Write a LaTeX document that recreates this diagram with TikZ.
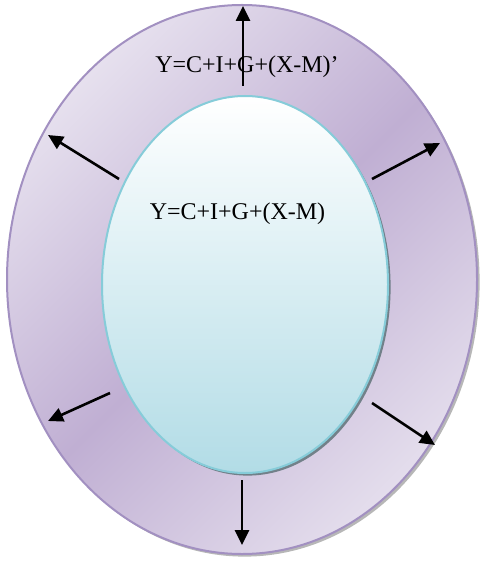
\documentclass[tikz,border=0pt]{standalone}
\usepackage{fontspec}
\setmainfont{Liberation Serif}
\usetikzlibrary{shapes.geometric,shadows,arrows.meta,positioning}
\definecolor{ringlight}{HTML}{E6E0EE}
\definecolor{ringdark}{HTML}{C0AFD3}
\definecolor{ringedge}{HTML}{A290C1}
\definecolor{coreedge}{HTML}{86CCD9}
\definecolor{corelow}{HTML}{B2DCE6}
\tikzset{
    ring/.style={ellipse, draw=ringedge, line width=1pt, inner sep=0pt,
        top color=ringlight, bottom color=ringlight!94!ringdark, middle color=ringdark,
        shading angle=45,
        drop shadow={shadow xshift=1.3pt, shadow yshift=-1.3pt, fill=black!40, opacity=0.7}},
    core/.style={ellipse, draw=coreedge, line width=1pt, inner sep=0pt,
        top color=white, bottom color=corelow,
        drop shadow={shadow xshift=1.3pt, shadow yshift=-1.3pt, fill=black!50!corelow, opacity=0.8}},
    push/.style={-{Triangle[length=7.5pt,width=7pt]}, line width=1.3pt},
    eq/.style={font=\fontsize{12}{14}\selectfont, inner sep=0pt}
}

\begin{document}
\begin{tikzpicture}[x=0.5pt,y=-0.5pt]
    \useasboundingbox (0,0) rectangle (480,561);
    \node[ring, minimum width=235pt, minimum height=274.5pt] (outer) at (242,279.5) {};
    \node[core, minimum width=143pt, minimum height=188.5pt] (inner) at (245,284.5) {};
    \node[eq] (neweq) at (247,67) {Y=C+I+G+(X-M)’}; %label
    \node[eq] (oldeq) at (237.5,213.5) {Y=C+I+G+(X-M)}; %label
    % arrow ends
    \coordinate (n0) at (243,86);   \coordinate (n1) at (243,6);
    \coordinate (nw0) at (119,179); \coordinate (nw1) at (48,135);
    \coordinate (ne0) at (372,179); \coordinate (ne1) at (440,143);
    \coordinate (sw0) at (110,393); \coordinate (sw1) at (48,421);
    \coordinate (se0) at (372,403); \coordinate (se1) at (435,445);
    \coordinate (s0) at (242,480);  \coordinate (s1) at (242,545);
    \draw[push] (n0) -- (n1);
    \draw[push] (nw0) -- (nw1);
    \draw[push] (ne0) -- (ne1);
    \draw[push] (sw0) -- (sw1);
    \draw[push] (se0) -- (se1);
    \draw[push] (s0) -- (s1);
\end{tikzpicture}
\end{document}
